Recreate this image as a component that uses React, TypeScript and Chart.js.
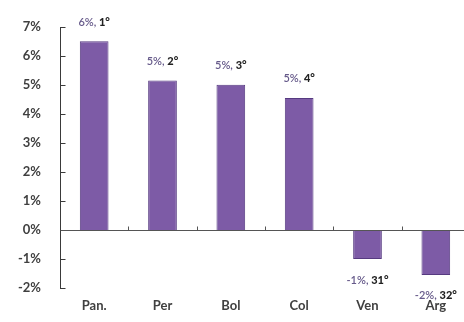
import React, { useEffect, useRef } from "react";
import { Chart, registerables } from "chart.js";

Chart.register(...registerables);

const categories = ["Pan.", "Per", "Bol", "Col", "Ven", "Arg"];
const values = [6.5, 5.15, 5.0, 4.55, -1.0, -1.55];
const valueLabels = ["6%,", "5%,", "5%,", "5%,", "-1%,", "-2%,"];
const rankLabels = ["1°", "2°", "3°", "4°", "31°", "32°"];
const yMin = -2;
const yMax = 7;

const FONT = "Lato, 'Open Sans', sans-serif";

const axesPlugin = {
  id: "customAxes",
  afterDatasetsDraw(chart: any) {
    const { ctx, chartArea, scales } = chart;
    const y = scales.y;
    const left = Math.round(chartArea.left) + 0.5;
    ctx.save();
    ctx.strokeStyle = "#3a3a3a";
    ctx.lineWidth = 1;
    ctx.beginPath();
    ctx.moveTo(left, Math.round(y.getPixelForValue(yMax)));
    ctx.lineTo(left, Math.round(y.getPixelForValue(yMin)) + 1);
    ctx.stroke();
    for (let v = yMin; v <= yMax; v++) {
      const py = Math.round(y.getPixelForValue(v)) + 0.5;
      ctx.beginPath();
      ctx.moveTo(left, py);
      ctx.lineTo(left + 5, py);
      ctx.stroke();
    }
    const zy = Math.round(y.getPixelForValue(0)) + 0.5;
    ctx.strokeStyle = "#555555";
    ctx.beginPath();
    ctx.moveTo(left, zy);
    ctx.lineTo(chartArea.right, zy);
    ctx.stroke();
    const n = categories.length;
    const w = (chartArea.right - chartArea.left) / n;
    for (let i = 1; i < n; i++) {
      const px = Math.round(chartArea.left + i * w) + 0.5;
      ctx.beginPath();
      ctx.moveTo(px, zy);
      ctx.lineTo(px, zy - 4);
      ctx.stroke();
    }
    const meta = chart.getDatasetMeta(0);
    ctx.textBaseline = "middle";
    meta.data.forEach((bar: any, i: number) => {
      const v = values[i];
      const cx = bar.x;
      const ly = v >= 0 ? bar.y - 19 : bar.y + 21;
      const f1 = `600 11px ${FONT}`;
      const f2 = `900 11px ${FONT}`;
      const t1 = valueLabels[i] + " ";
      const t2 = rankLabels[i];
      ctx.font = f1;
      const w1 = ctx.measureText(t1).width;
      ctx.font = f2;
      const w2 = ctx.measureText(t2).width;
      const sx = cx - (w1 + w2) / 2;
      ctx.textAlign = "left";
      ctx.font = f1;
      ctx.fillStyle = "#665a8a";
      ctx.fillText(t1, sx, ly);
      ctx.font = f2;
      ctx.fillStyle = "#222222";
      ctx.fillText(t2, sx + w1, ly);
    });
    ctx.restore();
  },
};

export default function App() {
  const ref = useRef<HTMLCanvasElement>(null);
  useEffect(() => {
    document.body.style.margin = "0";
    const chart = new Chart(ref.current as HTMLCanvasElement, {
      type: "bar",
      data: {
        labels: categories,
        datasets: [
          {
            data: values,
            backgroundColor: "#7d5ba6",
            borderColor: "#563a80",
            borderWidth: 1,
            categoryPercentage: 0.42,
            barPercentage: 1,
          },
        ],
      },
      options: {
        animation: false,
        responsive: false,
        maintainAspectRatio: false,
        layout: { padding: { top: 24, right: 2, left: 0, bottom: 0 } },
        plugins: { legend: { display: false }, tooltip: { enabled: false } },
        scales: {
          x: {
            offset: true,
            border: { display: false },
            grid: { display: false, drawTicks: false },
            ticks: {
              padding: 10,
              color: "#404040",
              font: { family: FONT, size: 13, weight: "bold" },
              maxRotation: 0,
            },
            afterFit: (s: any) => {
              s.height = 34;
            },
          },
          y: {
            min: yMin,
            max: yMax,
            border: { display: false },
            grid: { display: false, drawTicks: false },
            ticks: {
              stepSize: 1,
              padding: 19,
              color: "#404040",
              font: { family: FONT, size: 13, weight: "bold" },
              callback: (v: any) => `${v}%`,
            },
            afterFit: (s: any) => {
              s.width = 60;
            },
          },
        },
      },
      plugins: [axesPlugin],
    });
    return () => chart.destroy();
  }, []);
  return (
    <div
      style={{
        position: "fixed",
        left: 0,
        top: 0,
        width: 464,
        height: 322,
        overflow: "hidden",
        background: "#fff",
      }}
    >
      <canvas ref={ref} width={472} height={322} />
    </div>
  );
}
